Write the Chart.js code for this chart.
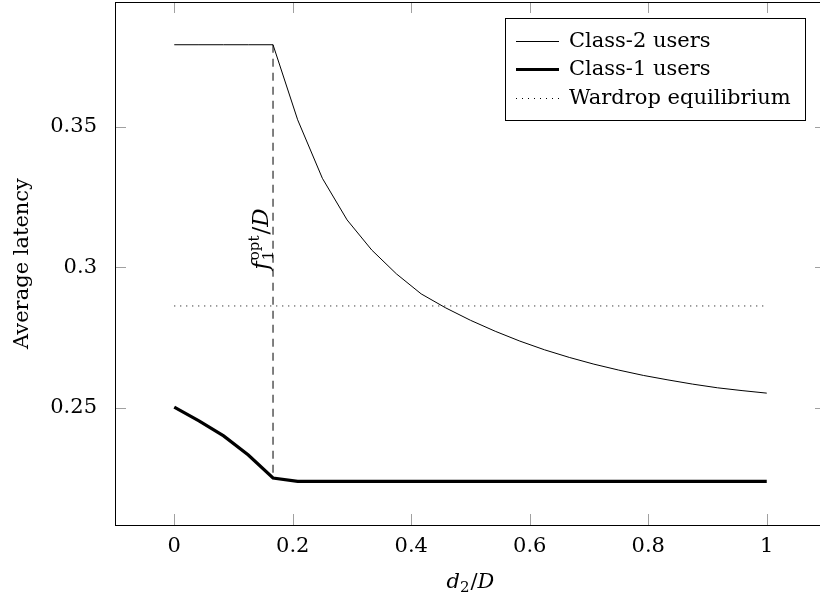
<!DOCTYPE html>
<html>
<head>
<meta charset="utf-8">
<script src="https://cdn.jsdelivr.net/npm/chart.js@4.4.0/dist/chart.umd.min.js"></script>
<style>
  html, body { margin: 0; padding: 0; background: #fff; overflow: hidden; width: 820px; height: 601px; }
  #latencyChart { display: block; }
</style>
</head>
<body>
<canvas id="latencyChart" width="832" height="601"></canvas>
<script>
// d2/D sample points (step 1/24)
const demandShare = [0, 0.0417, 0.0833, 0.125, 0.1667, 0.2083, 0.25, 0.2917, 0.3333, 0.375,
  0.4167, 0.4583, 0.5, 0.5417, 0.5833, 0.625, 0.6667, 0.7083, 0.75, 0.7917,
  0.8333, 0.875, 0.9167, 0.9583, 1];
const class2Latency = [0.3791, 0.3791, 0.3791, 0.3791, 0.3791, 0.3524, 0.3316, 0.3168, 0.3061, 0.2976,
  0.2905, 0.2855, 0.2811, 0.2772, 0.2737, 0.2706, 0.2679, 0.2655, 0.2634, 0.2615,
  0.2599, 0.2584, 0.2571, 0.2561, 0.2552];
const class1Latency = [0.2502, 0.2453, 0.2400, 0.2332, 0.2250, 0.2238, 0.2238, 0.2238, 0.2238, 0.2238,
  0.2238, 0.2238, 0.2238, 0.2238, 0.2238, 0.2238, 0.2238, 0.2238, 0.2238, 0.2238,
  0.2238, 0.2238, 0.2238, 0.2238, 0.2238];
const wardropShare = [0, 1];
const wardropLatency = [0.2862, 0.2862];
const foptShare = 0.1667;
const foptIndex = 4;
const foptLabelLatency = 0.31;
const xTicks = [0, 0.2, 0.4, 0.6, 0.8, 1];
const yTicks = [0.25, 0.3, 0.35];

const FONT = 'DejaVu Serif';
const SIZE = 21;

function pts(xs, ys) {
  return xs.map((x, i) => ({x: x, y: ys[i]}));
}

// draw a row of text pieces, returns width
function drawPieces(ctx, pieces, x0, base, measureOnly) {
  let cx = x0;
  pieces.forEach(p => {
    if (p.stack) {
      let w = 0;
      p.stack.forEach(s => {
        ctx.font = s.font;
        if (!measureOnly) ctx.fillText(s.text, cx, base + s.dy);
        w = Math.max(w, ctx.measureText(s.text).width);
      });
      cx += w + 1;
    } else {
      ctx.font = p.font;
      if (!measureOnly) ctx.fillText(p.text, cx, base + (p.dy || 0));
      cx += ctx.measureText(p.text).width + (p.gap || 0);
    }
  });
  return cx - x0;
}

const decor = {
  id: 'decor',
  afterDatasetsDraw(chart) {
    const {ctx, chartArea: a, scales: {x, y}} = chart;
    ctx.save();

    // ticks inside the box, on all four sides
    ctx.strokeStyle = '#a0a0a0';
    ctx.lineWidth = 1;
    ctx.beginPath();
    xTicks.forEach(v => {
      const px = Math.round(x.getPixelForValue(v)) + 0.5;
      ctx.moveTo(px, a.bottom); ctx.lineTo(px, a.bottom - 11);
      ctx.moveTo(px, a.top); ctx.lineTo(px, a.top + 11);
    });
    yTicks.forEach(v => {
      const py = Math.round(y.getPixelForValue(v)) + 0.5;
      ctx.moveTo(a.left, py); ctx.lineTo(a.left + 11, py);
      ctx.moveTo(a.right, py); ctx.lineTo(a.right - 11, py);
    });
    ctx.stroke();

    ctx.strokeStyle = '#000';
    ctx.strokeRect(a.left + 0.5, a.top + 0.5, a.right - a.left, a.bottom - a.top);

    ctx.fillStyle = '#000';
    ctx.textAlign = 'left';
    ctx.textBaseline = 'alphabetic';

    // f1^opt / D label along the dashed line
    const it = 'italic ' + SIZE + 'px ' + FONT, up = SIZE + 'px ' + FONT;
    const big = 'italic 23px ' + FONT, bigUp = '23px ' + FONT, sm = '15px ' + FONT;
    const fPieces = [
      {text: 'f', font: big, gap: 1},
      {stack: [{text: '1', font: sm, dy: 5}, {text: 'opt', font: sm, dy: -9}]},
      {text: '/', font: bigUp},
      {text: 'D', font: big}
    ];
    const fw = drawPieces(ctx, fPieces, 0, 0, true);
    ctx.save();
    ctx.translate(x.getPixelForValue(foptShare) - 5, y.getPixelForValue(foptLabelLatency));
    ctx.rotate(-Math.PI / 2);
    drawPieces(ctx, fPieces, -fw / 2, 0, false);
    ctx.restore();

    // x axis title d2/D
    const tPieces = [
      {text: 'd', font: it},
      {text: '2', font: sm, dy: 4, gap: 1},
      {text: '/', font: up},
      {text: 'D', font: it}
    ];
    const tw = drawPieces(ctx, tPieces, 0, 0, true);
    drawPieces(ctx, tPieces, (a.left + a.right) / 2 - tw / 2, chart.height - 13, false);

    // legend box
    const items = chart.data.datasets.slice(0, 3);
    ctx.font = up;
    const lw = Math.max(...items.map(d => ctx.measureText(d.label).width));
    const bw = Math.round(64 + lw + 14), bh = 102;
    const bx = Math.round(a.right - 21 - bw), by = Math.round(a.top + 16);
    ctx.fillStyle = '#fff';
    ctx.fillRect(bx, by, bw, bh);
    ctx.strokeStyle = '#000';
    ctx.lineWidth = 1;
    ctx.strokeRect(bx + 0.5, by + 0.5, bw, bh);
    const rows = [23, 51, 80];
    items.forEach((d, i) => {
      const ly = by + rows[i] + 0.5;
      ctx.beginPath();
      ctx.setLineDash(d.borderDash || []);
      ctx.lineWidth = d.borderWidth;
      ctx.strokeStyle = d.borderColor;
      ctx.moveTo(bx + 11, ly);
      ctx.lineTo(bx + 54, ly);
      ctx.stroke();
      ctx.setLineDash([]);
      ctx.fillStyle = '#000';
      ctx.font = up;
      ctx.fillText(d.label, bx + 64, ly + 5);
    });
    ctx.restore();
  }
};

const ctx = document.getElementById('latencyChart').getContext('2d');
new Chart(ctx, {
  type: 'line',
  data: {
    datasets: [
      {
        label: 'Class-2 users',
        data: pts(demandShare, class2Latency),
        borderColor: '#000',
        borderWidth: 1,
        pointRadius: 0,
        tension: 0
      },
      {
        label: 'Class-1 users',
        data: pts(demandShare, class1Latency),
        borderColor: '#000',
        borderWidth: 3.2,
        pointRadius: 0,
        tension: 0
      },
      {
        label: 'Wardrop equilibrium',
        data: pts(wardropShare, wardropLatency),
        borderColor: '#000',
        borderWidth: 1,
        borderDash: [1, 5],
        pointRadius: 0
      },
      {
        label: 'fopt',
        data: [{x: foptShare, y: class2Latency[foptIndex]}, {x: foptShare, y: class1Latency[foptIndex]}],
        borderColor: '#000',
        borderWidth: 1,
        borderDash: [8, 6],
        pointRadius: 0
      }
    ]
  },
  options: {
    animation: false,
    responsive: false,
    devicePixelRatio: 1,
    // the axis box runs to x=826, past the 820px window edge
    layout: { padding: { top: 2, right: 6, bottom: 0, left: 0 } },
    plugins: { legend: { display: false }, tooltip: { enabled: false } },
    scales: {
      x: {
        type: 'linear',
        min: -0.1,
        max: 1.1,
        afterBuildTicks: s => { s.ticks = xTicks.map(v => ({value: v})); },
        afterFit: s => { s.height = 76; s.paddingLeft = 0; s.paddingRight = 0; },
        grid: { display: false },
        border: { display: false },
        ticks: {
          autoSkip: false,
          maxRotation: 0,
          padding: 1,
          color: '#000',
          font: { family: FONT, size: SIZE },
          callback: v => String(v)
        }
      },
      y: {
        min: 0.2083,
        max: 0.3943,
        afterBuildTicks: s => { s.ticks = yTicks.map(v => ({value: v})); },
        afterFit: s => { s.width = 115; s.paddingTop = 0; s.paddingBottom = 0; },
        grid: { display: false },
        border: { display: false },
        ticks: {
          autoSkip: false,
          padding: 10,
          color: '#000',
          font: { family: FONT, size: SIZE },
          callback: v => String(v)
        },
        title: {
          display: true,
          text: 'Average latency',
          color: '#000',
          font: { family: FONT, size: SIZE },
          padding: { top: 10, bottom: 0 }
        }
      }
    }
  },
  plugins: [decor]
});
</script>
</body>
</html>
